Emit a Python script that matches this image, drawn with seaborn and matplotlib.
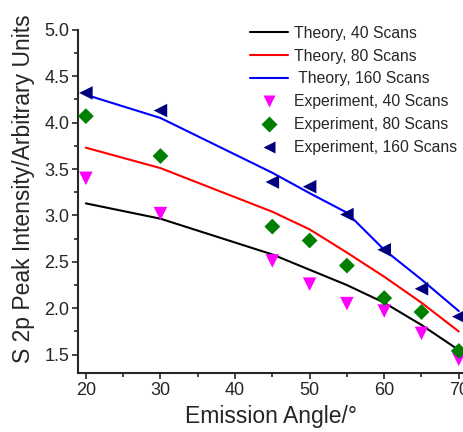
import numpy as np
import pandas as pd
import matplotlib
matplotlib.use("Agg")
import matplotlib.pyplot as plt
from matplotlib.ticker import MultipleLocator
import seaborn as sns

angles = [20, 30, 45, 50, 55, 60, 65, 70]

theory_40 = [3.13, 2.965, 2.58, 2.415, 2.25, 2.06, 1.82, 1.55]
theory_80 = [3.73, 3.51, 3.04, 2.85, 2.60, 2.34, 2.06, 1.75]
theory_160 = [4.30, 4.05, 3.46, 3.24, 3.03, 2.63, 2.31, 1.97]

exp_40 = [3.40, 3.02, 2.51, 2.26, 2.05, 1.97, 1.73, 1.45]
exp_80 = [4.07, 3.64, 2.88, 2.73, 2.46, 2.11, 1.96, 1.54]
exp_160 = [4.32, 4.13, 3.36, 3.31, 3.01, 2.63, 2.21, 1.91]

theory_labels = ["Theory, 40 Scans", "Theory, 80 Scans", " Theory, 160 Scans"]
exp_labels = ["Experiment, 40 Scans", "Experiment, 80 Scans", "Experiment, 160 Scans"]
line_colors = ["black", "#ff0000", "#0000ff"]
marker_colors = ["#ff00ff", "#007f00", "#00007f"]
markers = ["v", "D", "<"]

sns.set_style("ticks")
plt.rcParams["font.family"] = ["Liberation Sans", "DejaVu Sans"]

df_theory = pd.DataFrame({
    "angle": angles * 3,
    "value": theory_40 + theory_80 + theory_160,
    "series": [l for l in theory_labels for _ in angles],
})
df_exp = pd.DataFrame({
    "angle": angles * 3,
    "value": exp_40 + exp_80 + exp_160,
    "series": [l for l in exp_labels for _ in angles],
})

fig = plt.figure(figsize=(4.64, 4.32), dpi=100)
ax = fig.add_axes([0.169, 0.136, 0.831, 0.795])

sns.lineplot(data=df_theory, x="angle", y="value", hue="series",
             palette=dict(zip(theory_labels, line_colors)), linewidth=1.5,
             ax=ax, legend=False)
for lab, col, mk in zip(exp_labels, marker_colors, markers):
    sub = df_exp[df_exp["series"] == lab]
    sns.scatterplot(data=sub, x="angle", y="value", color=col, marker=mk,
                    s=95 if mk != "D" else 65, edgecolor="none", ax=ax,
                    clip_on=False, zorder=3)

ax.set_xlim(19, 70.7)
ax.set_ylim(1.3, 5.0)
ax.xaxis.set_major_locator(MultipleLocator(10))
ax.xaxis.set_minor_locator(MultipleLocator(5))
ax.yaxis.set_major_locator(MultipleLocator(0.5))
ax.yaxis.set_minor_locator(MultipleLocator(0.25))
ax.tick_params(which="major", direction="out", length=4.5, width=1.2, labelsize=13, pad=2)
ax.tick_params(which="minor", direction="out", length=3, width=1.2)
for s in ["top", "right"]:
    ax.spines[s].set_visible(False)
for s in ["left", "bottom"]:
    ax.spines[s].set_linewidth(1.5)

ax.set_xlabel("Emission Angle/\u00b0", fontsize=16.5, labelpad=4)
ax.set_ylabel("S 2p Peak Intensity/Arbitrary Units", fontsize=16.5)
ax.yaxis.set_label_coords(-0.112, 0.537)

handles = []
for lab, col in zip(theory_labels, line_colors):
    handles.append(plt.Line2D([], [], color=col, lw=1.5, label=lab))
for lab, col, mk in zip(exp_labels, marker_colors, markers):
    handles.append(plt.Line2D([], [], color=col, marker=mk, ls="none",
                              ms=9 if mk != "D" else 8, mec="none", label=lab))
ax.legend(handles=handles, frameon=False, fontsize=11.3, loc="upper left",
          bbox_to_anchor=(0.43, 1.03), handlelength=2.4, handletextpad=0.4,
          labelspacing=0.5, borderaxespad=0)

fig.savefig("out.png", dpi=100)
